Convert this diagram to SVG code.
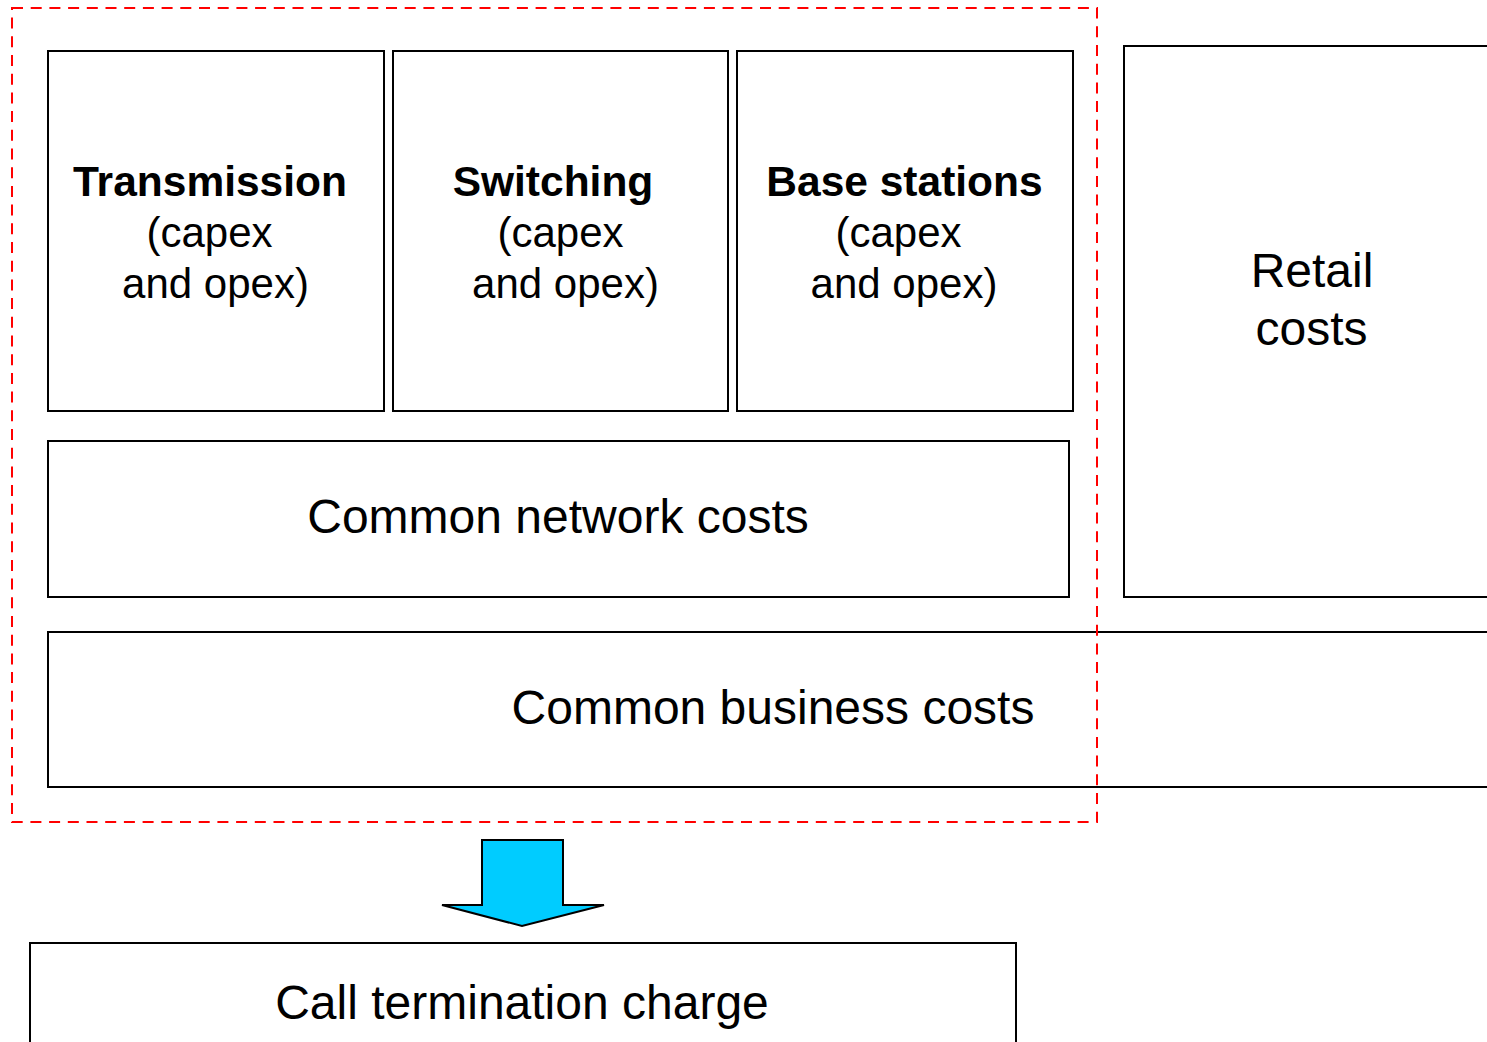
<svg xmlns="http://www.w3.org/2000/svg" width="1487" height="1042" viewBox="0 0 1487 1042">
<style>
.box{fill:#fff;stroke:#000;stroke-width:2}
.t{font-family:"Liberation Sans",Arial,sans-serif;fill:#000;text-anchor:middle}
.b{font-weight:bold;font-size:42.5px}
.r42{font-size:42px}
.r48{font-size:48px}
</style>
<rect width="1487" height="1042" fill="#fff"/>
<g id="retail">
<rect class="box" x="1124" y="46" width="380" height="551"/>
<text class="t r48" x="1312" y="287">Retail</text>
<text class="t r48" x="1311.5" y="345">costs</text>
</g>
<g id="transmission">
<rect class="box" x="48" y="51" width="336" height="360"/>
<text class="t b" x="210" y="196">Transmission</text>
<text class="t r42" x="209.5" y="247">(capex</text>
<text class="t r42" x="215.5" y="298">and opex)</text>
</g>
<g id="switching">
<rect class="box" x="393" y="51" width="335" height="360"/>
<text class="t b" x="553" y="196">Switching</text>
<text class="t r42" x="560.5" y="247">(capex</text>
<text class="t r42" x="565.5" y="298">and opex)</text>
</g>
<g id="base-stations">
<rect class="box" x="737" y="51" width="336" height="360"/>
<text class="t b" x="904.5" y="196">Base stations</text>
<text class="t r42" x="898.5" y="247">(capex</text>
<text class="t r42" x="904" y="298">and opex)</text>
</g>
<g id="common-network">
<rect class="box" x="48" y="441" width="1021" height="156"/>
<text class="t r48" x="558" y="533">Common network costs</text>
</g>
<g id="common-business">
<rect class="box" x="48" y="632" width="1460" height="155"/>
<text class="t r48" x="773" y="724">Common business costs</text>
</g>
<g id="network-boundary">
<rect x="12" y="8" width="1085" height="814" fill="none" stroke="#f00" stroke-width="2" stroke-dasharray="11,7.7"/>
</g>
<g id="connectors">
<polygon points="482,840 563,840 563,905 604,905 522,926 442,905 482,905" fill="#00ccff" stroke="#000" stroke-width="2" stroke-linejoin="miter"/>
</g>
<g id="call-termination">
<rect class="box" x="30" y="943" width="986" height="120"/>
<text class="t r48" x="522" y="1019">Call termination charge</text>
</g>
</svg>
